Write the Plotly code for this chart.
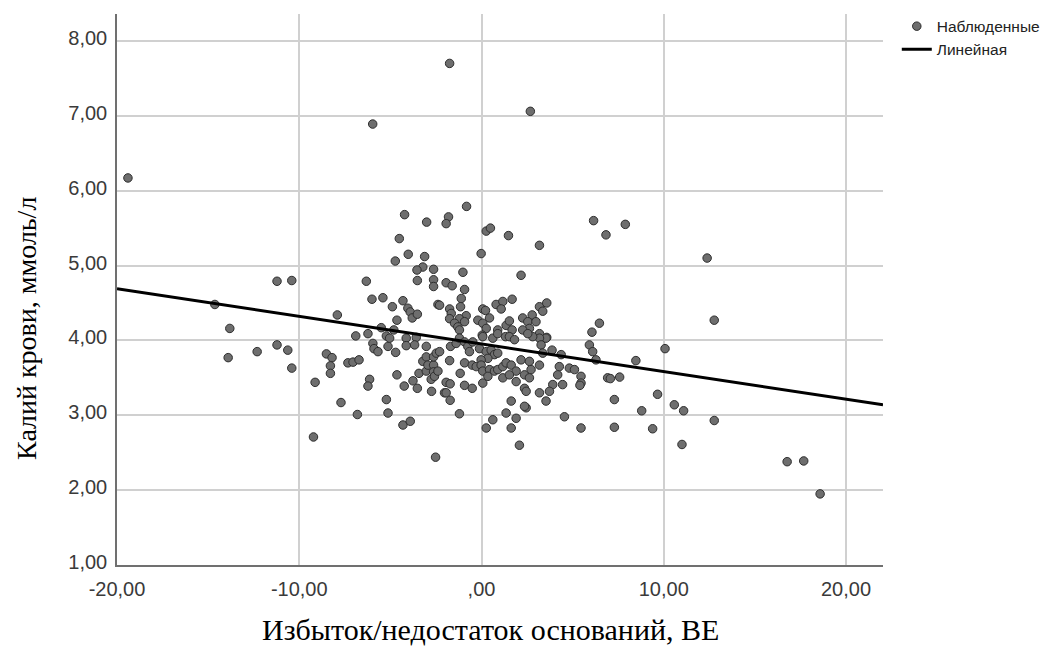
import plotly.graph_objects as go

# Избыток/недостаток оснований (BE) и калий крови (ммоль/л) по наблюдениям
base_excess = [
    -19.40, -1.75, 2.68, -5.97, -11.22, -10.41, -14.63, -13.81, -13.90, -12.31,
    -11.22, -10.63, -10.41, -9.13, -9.22, -8.51, -8.20, -8.29, -8.29, -7.91,
    -7.71, -7.33, -7.05, -6.72, -6.81, -6.90, -6.23, -6.32, -6.01, -5.41,
    -6.14, -6.23, -5.96, -5.90, -5.68, -5.50, -5.22, -5.13, -5.04, -4.89,
    -4.81, -4.71, -4.64, -4.64, -4.31, -4.24, -4.22, -4.51, -4.73, -4.02,
    -4.04, -3.91, -3.80, -3.52, -4.13, -4.13, -3.58, -3.67, -3.76, -3.52,
    -3.43, -3.22, -3.03, -3.03, -3.03, -2.94, -2.63, -2.63, -2.63, -2.76,
    -2.58, -2.39, -2.48, -2.30, -2.74, -2.03, -5.22, -5.13, -4.31, -3.91,
    -2.52, -3.01, -3.12, -3.22, -3.54, -2.63, -2.63, -2.63, -3.52, -2.39,
    -1.81, -1.94, -0.82, 0.26, 0.49, 1.48, 3.18, -0.02, 6.15, 6.83,
    7.89, 12.38, 12.77, -1.02, 2.17, -1.94, -1.61, -0.93, -1.11, -1.15,
    -1.75, -1.66, -0.84, -1.21, -1.75, -1.48, -0.93, -1.30, -1.21, -2.30,
    0.07, 0.22, -0.20, 0.44, 0.07, 0.26, 0.04, 0.80, 1.17, 1.68,
    1.08, 0.89, 1.35, 1.53, 1.68, 1.32, 2.26, 2.78, 2.54, 2.99,
    2.63, 3.18, 3.58, 3.36, 3.18, 3.58, 2.26, 6.47, 6.06, -1.75,
    -1.70, -1.39, -1.21, -0.93, -0.75, -0.66, -0.48, -0.93, -0.51, -1.17,
    -1.94, -1.72, -1.94, -1.72, -0.93, -0.51, -1.21, 0.07, 0.62, 0.89,
    1.53, 1.81, -0.11, 0.26, 0.53, 0.71, 0.89, 0.35, -0.02, -0.29,
    -0.02, 0.07, 0.44, 0.71, 0.89, 0.07, 0.35, 1.17, 1.35, 1.63,
    1.90, 2.17, 2.63, 3.18, 2.72, 2.36, 2.63, 1.17, 1.53, 1.90,
    2.36, 2.45, 3.18, 3.54, 3.91, 3.73, 4.27, 4.18, 4.45, 4.82,
    5.10, 5.46, 5.46, 5.40, 1.63, 1.35, 1.90, 0.62, 0.26, 1.63,
    2.45, 2.36, 2.08, 4.55, 5.46, 5.92, 6.10, 6.28, 6.92, 4.37,
    3.54, 3.18, 2.81, 2.54, 3.27, 3.36, 3.87, 7.07, 7.58, 8.47,
    10.07, 7.29, 7.29, 8.79, 9.39, 9.66, 10.58, 11.09, 11.00, 12.77,
    16.77, 17.68, 18.58,
]
potassium = [
    6.17, 7.70, 7.06, 6.89, 4.79, 4.80, 4.48, 4.16, 3.77, 3.85,
    3.94, 3.87, 3.63, 3.44, 2.71, 3.82, 3.77, 3.66, 3.56, 4.34,
    3.17, 3.70, 3.71, 3.74, 3.01, 4.06, 4.09, 4.79, 4.55, 4.57,
    3.48, 3.39, 3.96, 3.89, 3.85, 4.17, 4.06, 3.92, 4.03, 4.45,
    4.14, 3.84, 4.27, 3.54, 4.53, 3.39, 5.68, 5.36, 5.06, 5.15,
    4.43, 4.38, 4.30, 4.35, 4.03, 3.93, 4.04, 3.94, 3.46, 3.36,
    3.56, 3.72, 3.78, 3.92, 3.59, 3.67, 3.67, 3.78, 3.58, 3.48,
    3.52, 3.59, 3.83, 3.85, 3.32, 3.30, 3.21, 3.03, 2.87, 2.92,
    2.44, 5.58, 5.12, 4.98, 4.94, 4.95, 4.81, 4.72, 4.80, 4.48,
    5.65, 5.56, 5.79, 5.46, 5.50, 5.40, 5.27, 5.16, 5.60, 5.41,
    5.55, 5.10, 4.27, 4.91, 4.87, 4.77, 4.73, 4.68, 4.56, 4.45,
    4.42, 4.36, 4.33, 4.29, 4.29, 4.23, 4.25, 4.18, 4.14, 4.47,
    4.42, 4.40, 4.27, 4.30, 4.23, 4.16, 4.07, 4.48, 4.52, 4.55,
    4.42, 4.14, 4.20, 4.26, 4.14, 4.05, 4.30, 4.34, 4.25, 4.25,
    4.16, 4.45, 4.50, 4.39, 4.09, 4.04, 4.14, 4.23, 4.11, 3.73,
    3.92, 3.96, 4.03, 3.98, 3.92, 3.85, 3.98, 3.70, 3.67, 3.56,
    3.44, 3.42, 3.30, 3.20, 3.40, 3.36, 3.02, 4.05, 4.03, 4.09,
    4.05, 4.01, 3.89, 3.85, 3.87, 3.81, 3.83, 3.76, 3.74, 3.65,
    3.67, 3.59, 3.61, 3.59, 3.61, 3.43, 3.52, 3.65, 3.70, 3.67,
    3.59, 3.74, 3.72, 3.67, 3.61, 3.54, 3.50, 3.50, 3.54, 3.45,
    3.36, 3.32, 3.30, 3.19, 3.41, 3.32, 3.65, 3.54, 3.41, 3.63,
    3.61, 3.52, 3.43, 3.40, 3.19, 3.03, 2.96, 2.94, 2.83, 2.83,
    3.10, 3.12, 2.60, 2.98, 2.83, 3.94, 3.85, 3.74, 3.50, 3.81,
    4.03, 4.03, 4.05, 4.09, 3.94, 3.83, 3.87, 3.49, 3.51, 3.73,
    3.89, 3.21, 2.84, 3.06, 2.82, 3.28, 3.14, 3.06, 2.61, 2.93,
    2.38, 2.39, 1.95,
]

# Линейная аппроксимация: K = a + b * BE
fit_intercept = 3.952
fit_slope = -0.0369
fit_x = [-20.0, 22.03]
fit_y = [fit_intercept + fit_slope * v for v in fit_x]

x_tick_vals = [-20, -10, 0, 10, 20]
x_tick_text = ["-20,00", "-10,00", ",00", "10,00", "20,00"]
y_tick_vals = [1, 2, 3, 4, 5, 6, 7, 8]
y_tick_text = ["1,00", "2,00", "3,00", "4,00", "5,00", "6,00", "7,00", "8,00"]

sans = "Liberation Sans, Arial, sans-serif"
serif = "Liberation Serif, Times New Roman, serif"

fig = go.Figure()
fig.add_trace(go.Scatter(
    x=base_excess, y=potassium, mode="markers", name="Наблюденные",
    marker=dict(size=8.5, color="#6e6e6e", line=dict(color="#2e2e2e", width=1)),
))
fig.add_trace(go.Scatter(
    x=fit_x, y=fit_y, mode="lines", name="Линейная",
    line=dict(color="#000000", width=3),
))

axis_common = dict(
    showgrid=True, gridcolor="#d0d0d0", gridwidth=1.5,
    zeroline=False, showline=True, linecolor="#707070", linewidth=1.5,
    ticks="", tickfont=dict(family=sans, size=20, color="#3a3a3a"),
)
fig.update_xaxes(range=[-20, 22.03], tickmode="array", tickvals=x_tick_vals,
                 ticktext=x_tick_text, ticklabelstandoff=5, **axis_common)
fig.update_yaxes(range=[1, 8.36], tickmode="array", tickvals=y_tick_vals,
                 ticktext=y_tick_text, ticklabelstandoff=4, ticklabelshift=-3,
                 **axis_common)

fig.add_annotation(text="Избыток/недостаток оснований, BE", xref="paper", yref="paper",
                   x=0.488, y=-0.117, xanchor="center", yanchor="middle", showarrow=False,
                   font=dict(family=serif, size=30, color="#000000"))
fig.add_annotation(text="Калий крови, ммоль/л", xref="paper", yref="paper",
                   x=-0.119, y=0.43, xanchor="center", yanchor="middle", showarrow=False,
                   textangle=-90, font=dict(family=serif, size=28, color="#000000"))

fig.update_layout(
    width=1055, height=648,
    margin=dict(l=117, r=171, t=10, b=83),
    paper_bgcolor="white", plot_bgcolor="white",
    showlegend=True,
    legend=dict(x=1.018, y=1.008, xanchor="left", yanchor="top",
                font=dict(family=sans, size=15.5, color="#222222"),
                bgcolor="rgba(0,0,0,0)", itemwidth=30, tracegroupgap=0),
)

fig.write_html("out.html")
